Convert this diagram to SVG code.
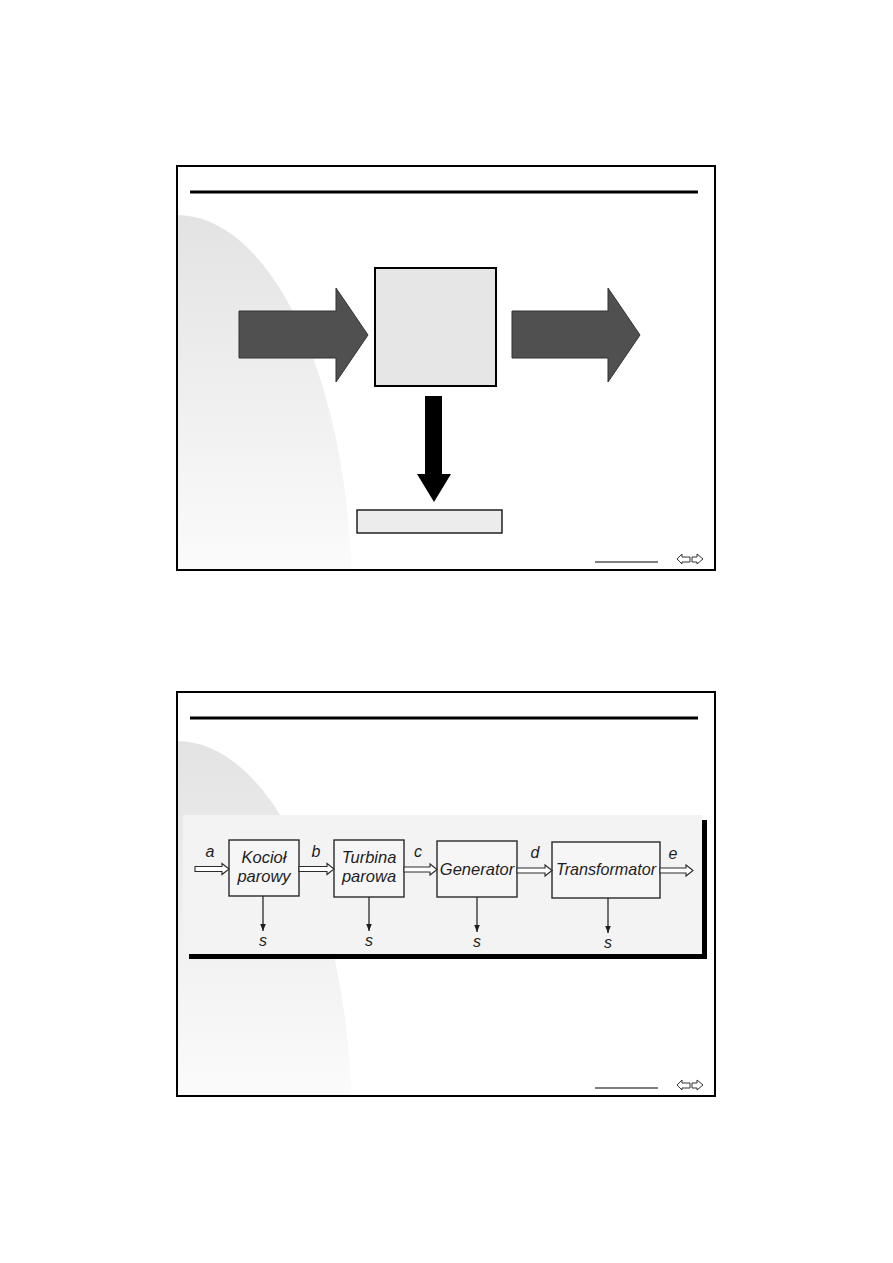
<svg xmlns="http://www.w3.org/2000/svg" width="893" height="1263" viewBox="0 0 893 1263">
<style>
.bgf{fill:#fff}
.frame{fill:none;stroke:#000;stroke-width:2}
.rule{stroke:#000;stroke-width:3}
.ul{stroke:#000;stroke-width:1.2}
.nav{fill:#fff;stroke:#333;stroke-width:1}
.big{fill:#505050;stroke:#333;stroke-width:1}
.blk{fill:#000}
.box{fill:#f6f6f6;stroke:#2a2a2a;stroke-width:1.4}
.flow{fill:#fff;stroke:#2a2a2a;stroke-width:1.1}
.ln{stroke:#2a2a2a;stroke-width:1.3;fill:none}
.t{font-family:"Liberation Sans",Arial,sans-serif;font-style:italic;font-size:16.5px;fill:#1e1e1e;text-anchor:middle}
.l{font-family:"Liberation Sans",Arial,sans-serif;font-style:italic;font-size:16px;fill:#1e1e1e;text-anchor:middle}
</style>
<defs>
<linearGradient id="bg" x1="0" y1="0" x2="0" y2="1">
<stop offset="0" stop-color="#e3e3e3"/>
<stop offset="1" stop-color="#fbfbfb"/>
</linearGradient>
<marker id="ah" viewBox="0 0 10 10" refX="10" refY="5" markerWidth="7" markerHeight="8" markerUnits="userSpaceOnUse" orient="auto">
<path d="M0,1 L10,5 L0,9 Z" fill="#1e1e1e"/>
</marker>
</defs>
<rect width="893" height="1263" fill="#fff"/>

<!-- Slide 1 -->
<g id="slide1">
<rect class="bgf" x="177" y="166" width="538" height="404"/>
<path d="M177,215 A175,385 0 0 1 351.5,570 L177,570 Z" fill="url(#bg)"/>
<rect class="frame" x="177" y="166" width="538" height="404"/>
<line class="rule" x1="190" y1="192" x2="698" y2="192"/>
<line class="ul" x1="595" y1="562" x2="658" y2="562"/>
<polygon class="nav" points="677,559 682,554 682,557 690,557 690,562 682,562 682,564"/>
<polygon class="nav" points="692,557 697,557 697,554 703,559 697,564 697,562 692,562"/>
</g>
<g id="process-box">
<rect x="375" y="268" width="121" height="118" fill="#e6e6e6" stroke="#000" stroke-width="2"/>
</g>
<g id="output-box">
<rect x="357" y="510" width="145" height="23" fill="#ececec" stroke="#000" stroke-width="1.3"/>
</g>
<g id="connectors-slide1">
<polygon class="big" points="239,311 336,311 336,288 368,335 336,382 336,358 239,358"/>
<polygon class="big" points="512,311 608,311 608,288 640,335 608,382 608,358 512,358"/>
<polygon class="blk" points="425,396 442,396 442,474 451,474 434,502 417,474 425,474"/>
</g>

<!-- Slide 2 -->
<g id="slide2">
<rect class="bgf" x="177" y="692" width="538" height="404"/>
<path d="M177,741 A175,385 0 0 1 351.5,1096 L177,1096 Z" fill="url(#bg)"/>
<rect class="frame" x="177" y="692" width="538" height="404"/>
<line class="rule" x1="190" y1="718" x2="698" y2="718"/>
<line class="ul" x1="595" y1="1088" x2="658" y2="1088"/>
<polygon class="nav" points="677,1085 682,1080 682,1083 690,1083 690,1088 682,1088 682,1090"/>
<polygon class="nav" points="692,1083 697,1083 697,1080 703,1085 697,1090 697,1088 692,1088"/>
<rect x="189" y="820" width="518" height="139" fill="#000"/>
<rect x="183" y="815" width="519" height="139" fill="#f3f3f3"/>
</g>
<g id="kociol">
<rect class="box" x="229" y="840" width="70" height="56"/>
<text class="t" x="264" y="863">Kocioł</text>
<text class="t" x="264" y="882">parowy</text>
</g>
<g id="turbina">
<rect class="box" x="334" y="840" width="70" height="57"/>
<text class="t" x="369" y="863">Turbina</text>
<text class="t" x="369" y="882">parowa</text>
</g>
<g id="generator">
<rect class="box" x="437" y="841" width="80" height="56"/>
<text class="t" x="477" y="875">Generator</text>
</g>
<g id="transformator">
<rect class="box" x="552" y="842" width="108" height="56"/>
<text class="t" x="606" y="875" textLength="100" lengthAdjust="spacingAndGlyphs">Transformator</text>
</g>
<g id="connectors-slide2">
<polygon class="flow" points="195,866.5 222,866.5 222,863.5 229,869 222,874.5 222,871.5 195,871.5"/>
<polygon class="flow" points="299,866.5 327,866.5 327,863.5 334,869 327,874.5 327,871.5 299,871.5"/>
<polygon class="flow" points="404,867 430,867 430,864 437,869.5 430,875 430,872 404,872"/>
<polygon class="flow" points="517,868 545,868 545,865 552,870.5 545,876 545,873 517,873"/>
<polygon class="flow" points="660,868 686,868 686,865 693,870.5 686,876 686,873 660,873"/>
<line class="ln" x1="263" y1="896" x2="263" y2="931" marker-end="url(#ah)"/>
<line class="ln" x1="369" y1="897" x2="369" y2="931" marker-end="url(#ah)"/>
<line class="ln" x1="477" y1="897" x2="477" y2="932" marker-end="url(#ah)"/>
<line class="ln" x1="608" y1="898" x2="608" y2="933" marker-end="url(#ah)"/>
<text class="l" x="210" y="857">a</text>
<text class="l" x="316" y="857">b</text>
<text class="l" x="418" y="857">c</text>
<text class="l" x="535" y="858">d</text>
<text class="l" x="673" y="859">e</text>
<text class="l" x="263" y="946">s</text>
<text class="l" x="369" y="946">s</text>
<text class="l" x="477" y="947">s</text>
<text class="l" x="608" y="948">s</text>
</g>
</svg>
